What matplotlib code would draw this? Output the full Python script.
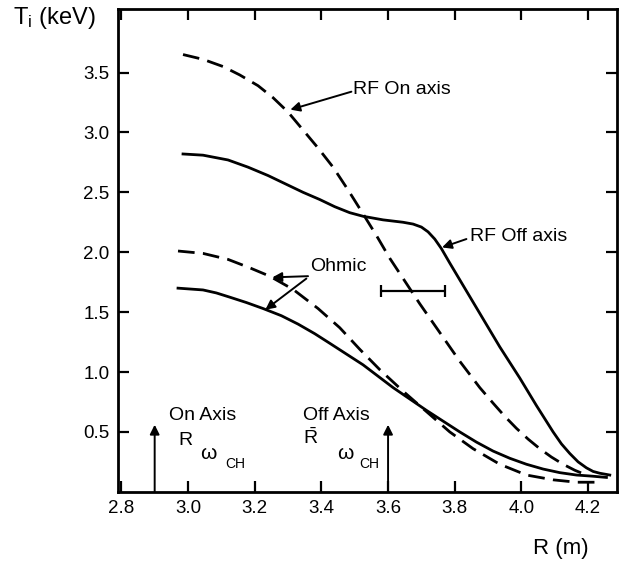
import numpy as np
import matplotlib
matplotlib.use('Agg')
import matplotlib.pyplot as plt

plt.rcParams['font.family'] = ['Liberation Sans', 'DejaVu Sans']
plt.rcParams['mathtext.fontset'] = 'custom'
plt.rcParams['mathtext.rm'] = 'Liberation Sans'
plt.rcParams['mathtext.it'] = 'Liberation Sans:italic'

# RF on axis (dashed)
rf_on_r = [2.985, 3.045, 3.105, 3.155, 3.21, 3.255, 3.30, 3.345, 3.39, 3.435,
           3.48, 3.525, 3.565, 3.605, 3.65, 3.695, 3.725, 3.755, 3.785, 3.815,
           3.845, 3.875, 3.915, 3.95, 3.985, 4.02, 4.055, 4.09, 4.125, 4.16,
           4.195]
rf_on_t = [3.65, 3.61, 3.55, 3.48, 3.39, 3.29, 3.17, 3.02, 2.87, 2.71,
           2.52, 2.32, 2.14, 1.95, 1.76, 1.57, 1.45, 1.33, 1.21, 1.09,
           0.98, 0.87, 0.74, 0.63, 0.53, 0.44, 0.36, 0.29, 0.23, 0.18,
           0.14]

# RF off axis (solid)
rf_off_r = [2.985, 3.045, 3.12, 3.18, 3.24, 3.285, 3.345, 3.395, 3.44, 3.485,
            3.525, 3.585, 3.645, 3.675, 3.70, 3.72, 3.74, 3.76, 3.785, 3.815,
            3.875, 3.935, 3.995, 4.045, 4.095, 4.12, 4.145, 4.17, 4.195,
            4.215, 4.235, 4.265]
rf_off_t = [2.82, 2.81, 2.77, 2.71, 2.64, 2.58, 2.50, 2.44, 2.38, 2.33,
            2.30, 2.27, 2.25, 2.235, 2.21, 2.17, 2.11, 2.03, 1.91, 1.77,
            1.49, 1.21, 0.95, 0.72, 0.50, 0.40, 0.32, 0.25, 0.20,
            0.17, 0.155, 0.14]

# Ohmic (dashed)
ohm_d_r = [2.97, 3.045, 3.12, 3.185, 3.245, 3.315, 3.39, 3.455, 3.515, 3.575,
           3.645, 3.715, 3.785, 3.855, 3.935, 4.015, 4.095, 4.165, 4.235]
ohm_d_t = [2.01, 1.99, 1.94, 1.87, 1.80, 1.69, 1.53, 1.37, 1.19, 1.02,
           0.84, 0.67, 0.50, 0.36, 0.23, 0.14, 0.10, 0.08, 0.08]

# Ohmic (solid)
ohm_s_r = [2.97, 3.045, 3.085, 3.125, 3.175, 3.225, 3.28, 3.33, 3.38, 3.425,
           3.475, 3.525, 3.57, 3.615, 3.665, 3.715, 3.765, 3.815, 3.865,
           3.915, 3.965, 4.015, 4.065, 4.115, 4.165, 4.215, 4.255]
ohm_s_t = [1.70, 1.685, 1.66, 1.625, 1.58, 1.53, 1.47, 1.40, 1.32, 1.24,
           1.15, 1.06, 0.965, 0.87, 0.775, 0.68, 0.59, 0.50, 0.415,
           0.34, 0.28, 0.23, 0.19, 0.16, 0.14, 0.13, 0.12]

# error bar
err_r, err_t, err_half = 3.675, 1.68, 0.095

# resonance markers
on_axis_r = 2.9
off_axis_r = 3.6

x_ticks = [2.8, 3.0, 3.2, 3.4, 3.6, 3.8, 4.0, 4.2]
y_ticks = [0.5, 1.0, 1.5, 2.0, 2.5, 3.0, 3.5]

fig = plt.figure(figsize=(6.31, 5.64), dpi=100)
ax = fig.add_axes([0.187, 0.128, 0.791, 0.856])

lw = 2.0
dash = (0, (6, 3))
ax.plot(rf_on_r, rf_on_t, color='k', lw=lw, linestyle=dash)
ax.plot(rf_off_r, rf_off_t, color='k', lw=lw)
ax.plot(ohm_d_r, ohm_d_t, color='k', lw=lw, linestyle=dash)
ax.plot(ohm_s_r, ohm_s_t, color='k', lw=lw)

ax.errorbar(err_r, err_t, xerr=err_half, color='k', lw=1.6, capsize=4, capthick=1.6)

ax.set_xlim(2.79, 4.287)
ax.set_ylim(0, 4.03)
ax.set_xticks(x_ticks)
ax.set_xticklabels([f'{v:.1f}' for v in x_ticks])
ax.set_yticks(y_ticks)
ax.set_yticklabels([f'{v:.1f}' for v in y_ticks])
ax.tick_params(direction='in', length=8, width=1.6, labelsize=13.5,
               top=True, right=True, pad=6)
for s in ax.spines.values():
    s.set_linewidth(2)

arr = dict(arrowstyle='-|>', color='k', lw=1.4, mutation_scale=14,
           shrinkA=0, shrinkB=0)

# annotations
ax.annotate('', xy=(3.307, 3.19), xytext=(3.49, 3.34), arrowprops=arr)
ax.text(3.495, 3.36, 'RF On axis', fontsize=14, va='center', ha='left')

ax.annotate('', xy=(3.762, 2.04), xytext=(3.835, 2.11), arrowprops=arr)
ax.text(3.846, 2.13, 'RF Off axis', fontsize=14, va='center', ha='left')

ax.annotate('', xy=(3.253, 1.79), xytext=(3.36, 1.80), arrowprops=arr)
ax.annotate('', xy=(3.232, 1.52), xytext=(3.355, 1.78), arrowprops=arr)
ax.text(3.367, 1.88, 'Ohmic', fontsize=14, va='center', ha='left')

# resonance arrows
for r in (on_axis_r, off_axis_r):
    ax.annotate('', xy=(r, 0.56), xytext=(r, 0.0), arrowprops=arr)

ax.text(2.944, 0.64, 'On Axis', fontsize=14, va='center', ha='left')
ax.text(2.971, 0.43, 'R', fontsize=14, va='center', ha='left')
ax.text(3.037, 0.32, '\u03c9', fontsize=15, va='center', ha='left')
ax.text(3.112, 0.23, 'CH', fontsize=10, va='center', ha='left')

ax.text(3.346, 0.64, 'Off Axis', fontsize=14, va='center', ha='left')
ax.text(3.346, 0.45, r'$\bar{\mathrm{R}}$', fontsize=14, va='center', ha='left')
ax.text(3.447, 0.32, '\u03c9', fontsize=15, va='center', ha='left')
ax.text(3.513, 0.23, 'CH', fontsize=10, va='center', ha='left')

fig.text(0.021, 0.968, r'T$_\mathrm{i}$ (keV)', fontsize=17, va='center', ha='left')
fig.text(0.845, 0.028, 'R (m)', fontsize=16, va='center', ha='left')

fig.savefig('out.png', dpi=100)
